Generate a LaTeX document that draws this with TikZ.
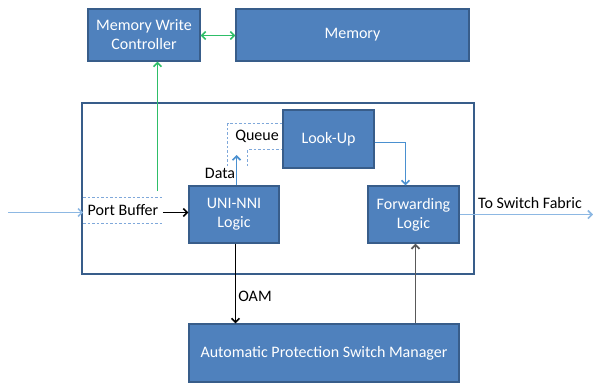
\documentclass[tikz,border=0pt]{standalone}
\usepackage{fontspec}
\setmainfont{Carlito}
\usepackage{tikz}
\usetikzlibrary{arrows.meta}
\definecolor{boxblue}{HTML}{4F81BD}
\definecolor{edgeblue}{HTML}{385D8A}
\definecolor{lineblue}{HTML}{4A90D0}
\definecolor{paleblue}{HTML}{8DB8E3}
\definecolor{dashblue}{HTML}{7FA8DA}
\definecolor{memgreen}{HTML}{2EBE68}

\begin{document}
\begin{tikzpicture}[x=1pt,y=-1pt,font=\fontsize{16}{19}\selectfont,line width=1.6pt,
  >={Straight Barb[length=4pt,width=8pt]},
  blk/.style={rectangle,draw=edgeblue,fill=boxblue,text=white,line width=1.2pt,
    inner sep=0pt,align=center},
  lbl/.style={inner sep=1pt},
  dsh/.style={draw=dashblue,dashed,line width=1pt,dash pattern=on 2.5pt off 2pt}]
\useasboundingbox (0,0) rectangle (593,383);
\draw[edgeblue,line width=1.6pt] (82,103) rectangle (474,274);
\node [blk,minimum width=112pt,minimum height=52pt] (mwc) at (144,35) {Memory Write\\Controller};
\node [blk,minimum width=233pt,minimum height=52pt] (mem) at (352.5,35) {Memory};
\node [blk,minimum width=91pt,minimum height=58pt] (lu) at (328.5,139) {Look-Up};
\node [blk,minimum width=90pt,minimum height=57pt] (uni) at (234,214.5) {UNI-NNI\\Logic};
\node [blk,minimum width=91pt,minimum height=57pt] (fwd) at (413.5,214.5) {Forwarding\\Logic};
\node [blk,minimum width=270pt,minimum height=58pt] (apsm) at (324,353) {Automatic Protection Switch Manager};
\node [lbl,minimum width=78pt,minimum height=25pt] (pb) at (123,210.5) {Port Buffer};
\node [lbl] (q) at (257,136) {Queue};
\node [lbl] (data) at (220,173) {Data};
\node [lbl] (oam) at (255,296) {OAM};
\node [lbl] (tsf) at (530,203) {To Switch Fabric};
% queue outline
\draw[dsh] (227.5,166) -- (227.5,123.5) -- (lu.west |- 0,123.5);
\draw[dsh] (247.5,166) -- (247.5,149.5) -- (lu.west |- 0,149.5);
% port buffer
\draw[dsh] (pb.north west) -- (pb.north east);
\draw[dsh] (pb.south west) -- (pb.south east);
\coordinate (in) at (8,212.5);
\coordinate (tap) at (157.5,191);
\coordinate (qin) at (236.5,155);
\coordinate (out) at (593,214.5);
\draw[paleblue,->] (in) -- (pb.west |- in);
\draw[->] (pb.east |- in) -- (uni.west |- in);
\draw[memgreen,->] (tap) -- (tap |- mwc.south);
\draw[memgreen,<->] (mwc.east |- 0,35.5) -- (mem.west |- 0,35.5);
\draw[lineblue,->] (uni.north -| qin) -- (qin);
\draw[lineblue,->] (lu.east |- 0,142.5) -| (fwd.north -| 405.5,0);
\draw[paleblue,->] (fwd.east |- out) -- (out);
\draw[->] (uni.south -| 235.5,0) -- (apsm.north -| 235.5,0);
\draw[gray!70!black,->,line width=1.8pt] (apsm.north -| 415.5,0) -- (fwd.south -| 415.5,0);
\end{tikzpicture}
\end{document}
